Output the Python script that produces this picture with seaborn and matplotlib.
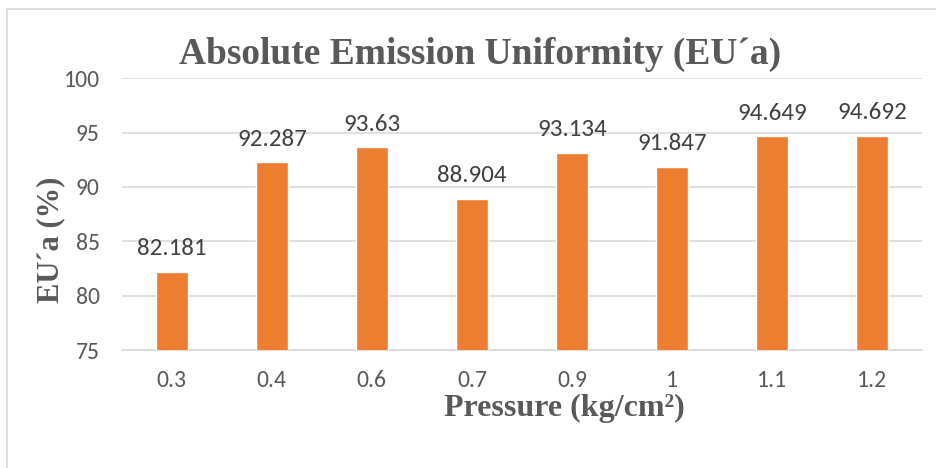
import matplotlib
matplotlib.use("Agg")
import matplotlib.pyplot as plt
from matplotlib.lines import Line2D
import seaborn as sns
import pandas as pd

pressure = ["0.3", "0.4", "0.6", "0.7", "0.9", "1", "1.1", "1.2"]
eu_a = [82.181, 92.287, 93.63, 88.904, 93.134, 91.847, 94.649, 94.692]
y_ticks = [75, 80, 85, 90, 95, 100]

df = pd.DataFrame({"pressure": pressure, "eu_a": eu_a})

sns.set_theme(style="white")
plt.rcParams["font.family"] = ["Carlito", "Liberation Sans Narrow", "Open Sans", "DejaVu Sans"]

fig = plt.figure(figsize=(9.37, 4.68), dpi=100)
ax = fig.add_axes([0.130, 0.252, 0.854, 0.581])

sns.barplot(data=df, x="pressure", y="eu_a", color="#ED7D31", width=0.32,
            saturation=1, ax=ax, zorder=3)

ax.set_ylim(75, 100)
ax.set_yticks(y_ticks)
ax.grid(axis="y", color="#D9D9D9", linewidth=1.2, zorder=0)
for s in ["top", "right", "left"]:
    ax.spines[s].set_visible(False)
ax.spines["bottom"].set_color("#D9D9D9")
ax.spines["bottom"].set_linewidth(1.2)
ax.tick_params(axis="both", length=0, colors="#595959", labelsize=17)
ax.tick_params(axis="x", pad=14)
ax.tick_params(axis="y", pad=16)

for i, v in enumerate(eu_a):
    ax.annotate(f"{v:g}", (i, v), xytext=(0, 9), textcoords="offset points",
                ha="center", va="bottom", fontsize=18, color="#404040")

serif = ["Liberation Serif", "DejaVu Serif"]
ax.set_xlabel("Pressure (kg/cm\u00b2)", fontfamily=serif, fontsize=23,
              fontweight="bold", color="#595959", va="center")
ax.xaxis.set_label_coords(0.553, -0.215)
ax.set_ylabel("EU\u00b4a (%)", fontfamily=serif, fontsize=22,
              fontweight="bold", color="#595959", va="center")
ax.yaxis.set_label_coords(-0.089, 0.404)
fig.text(0.512, 0.883, "Absolute Emission Uniformity (EU\u00b4a)", fontfamily=serif,
         fontsize=27, fontweight="bold", color="#595959", ha="center", va="center")

# chart frame
fig.add_artist(Line2D([0.0075, 0.0075], [0.0, 0.981], color="#D9D9D9", linewidth=1.2))
fig.add_artist(Line2D([0.0075, 1.0], [0.981, 0.981], color="#D9D9D9", linewidth=1.2))

fig.savefig("out.png", dpi=100, facecolor="white")
